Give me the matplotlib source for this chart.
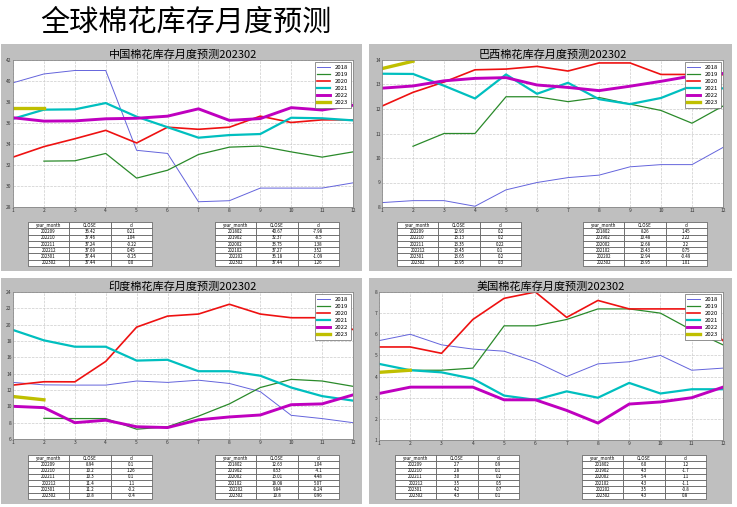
import numpy as np
import matplotlib
matplotlib.use("Agg")
import matplotlib.pyplot as plt
from matplotlib.patches import Rectangle

plt.rcParams['font.family'] = ['Noto Sans CJK SC', 'DejaVu Sans']

months = list(range(1, 13))
years = ['2018', '2019', '2020', '2021', '2022', '2023']
nan = np.nan

# China
cn_2018 = [39.83, 40.67, 41.0, 41.0, 33.4, 33.1, 28.5, 28.6, 29.8, 29.8, 29.8, 30.3]
cn_2019 = [nan, 32.37, 32.4, 33.1, 30.75, 31.5, 33.0, 33.7, 33.8, 33.25, 32.75, 33.25]
cn_2020 = [32.75, 33.75, 34.5, 35.3, 34.1, 35.6, 35.4, 35.6, 36.65, 36.05, 36.3, 36.3]
cn_2021 = [36.4, 37.27, 37.3, 37.9, 36.6, 35.6, 34.6, 34.85, 34.95, 36.5, 36.45, 36.25]
cn_2022 = [36.5, 36.18, 36.2, 36.4, 36.45, 36.65, 37.35, 36.25, 36.42, 37.46, 37.24, 37.69]
cn_2023 = [37.44, 37.44]

# Brazil
br_2018 = [8.18, 8.26, 8.26, 8.03, 8.7, 9.0, 9.2, 9.3, 9.64, 9.73, 9.73, 10.43]
br_2019 = [nan, 10.48, 11.0, 11.0, 12.5, 12.5, 12.3, 12.47, 12.2, 11.94, 11.42, 12.12]
br_2020 = [12.12, 12.68, 13.1, 13.6, 13.63, 13.74, 13.55, 13.88, 13.88, 13.41, 13.41, 13.4]
br_2021 = [13.44, 13.43, 12.95, 12.43, 13.41, 12.62, 13.07, 12.4, 12.2, 12.45, 12.95, 12.84]
br_2022 = [12.85, 12.94, 13.15, 13.25, 13.28, 12.98, 12.88, 12.75, 12.93, 13.13, 13.35, 13.45]
br_2023 = [13.65, 13.95]

# India
in_2018 = [12.93, 12.63, 12.6, 12.6, 13.1, 12.93, 13.2, 12.8, 11.8, 8.9, 8.5, 8.0]
in_2019 = [nan, 8.53, 8.5, 8.5, 7.2, 7.5, 8.8, 10.3, 12.3, 13.3, 13.1, 12.45]
in_2020 = [12.6, 13.01, 13.0, 15.5, 19.7, 21.05, 21.3, 22.5, 21.3, 20.85, 20.85, 19.4]
in_2021 = [19.35, 18.08, 17.3, 17.3, 15.6, 15.7, 14.3, 14.3, 13.75, 12.3, 11.25, 10.7]
in_2022 = [10.0, 9.84, 8.0, 8.3, 7.5, 7.4, 8.35, 8.7, 8.94, 10.2, 10.3, 11.4]
in_2023 = [11.2, 10.8]

# USA
us_2018 = [5.7, 6.0, 5.5, 5.3, 5.2, 4.7, 4.0, 4.6, 4.7, 5.0, 4.3, 4.4]
us_2019 = [nan, 4.3, 4.3, 4.4, 6.4, 6.4, 6.7, 7.2, 7.2, 7.0, 6.2, 5.5]
us_2020 = [5.4, 5.4, 5.1, 6.7, 7.7, 8.0, 6.8, 7.6, 7.2, 7.2, 7.2, 5.7]
us_2021 = [4.6, 4.3, 4.2, 3.9, 3.1, 2.9, 3.3, 3.0, 3.7, 3.2, 3.4, 3.4]
us_2022 = [3.2, 3.5, 3.5, 3.5, 2.9, 2.9, 2.4, 1.8, 2.7, 2.8, 3.0, 3.5]
us_2023 = [4.2, 4.3]

# tables
recent_months = ['202209', '202210', '202211', '202212', '202301', '202302']
feb_months = ['201802', '201902', '202002', '202102', '202202', '202302']

cn_recent_close = ['36.42', '37.46', '37.24', '37.69', '37.44', '37.44']
cn_recent_d = ['0.21', '1.04', '-0.22', '0.45', '-0.25', '0.0']
cn_feb_close = ['40.67', '32.37', '33.75', '37.27', '36.18', '37.44']
cn_feb_d = ['-7.98', '-8.5', '1.38', '3.52', '-1.09', '1.26']

br_recent_close = ['12.93', '13.13', '13.35', '13.45', '13.65', '13.95']
br_recent_d = ['0.2', '0.2', '0.22', '0.1', '0.2', '0.3']
br_feb_close = ['8.26', '10.48', '12.68', '13.43', '12.94', '13.95']
br_feb_d = ['1.45', '2.22', '2.2', '0.75', '-0.49', '1.01']

in_recent_close = ['8.94', '10.2', '10.3', '11.4', '11.2', '10.8']
in_recent_d = ['0.1', '1.26', '0.1', '1.1', '-0.2', '-0.4']
in_feb_close = ['12.63', '8.53', '13.01', '18.08', '9.84', '10.8']
in_feb_d = ['1.04', '-4.1', '4.48', '5.07', '-8.24', '0.96']

us_recent_close = ['2.7', '2.8', '3.0', '3.5', '4.2', '4.3']
us_recent_d = ['0.9', '0.1', '0.2', '0.5', '0.7', '0.1']
us_feb_close = ['6.0', '4.3', '5.4', '4.3', '3.5', '4.3']
us_feb_d = ['1.2', '-1.7', '1.1', '-1.1', '-0.8', '0.8']

colors = ['#6464dc', '#2a8a2a', '#ee1111', '#00bfbf', '#bf00bf', '#bfbf00']
widths = [0.7, 0.9, 1.2, 1.6, 2.1, 2.4]

W, H = 737, 507
fig = plt.figure(figsize=(W / 100, H / 100), dpi=100)
fig.patch.set_facecolor('white')


def box(l, t, w, h):
    return [l / W, 1 - (t + h) / H, w / W, h / H]


fig.text(40 / W, 1 - 23 / H, '全球棉花库存月度预测', fontsize=21, va='center', ha='left')

panels = [
    dict(title='中国棉花库存月度预测202302', series=[cn_2018, cn_2019, cn_2020, cn_2021, cn_2022, cn_2023],
         ylim=(28, 42), ystep=2, rc=cn_recent_close, rd=cn_recent_d, fc=cn_feb_close, fd=cn_feb_d,
         gray=(1, 44, 361, 227), ax=(13, 60, 340, 147), tab1=(28, 222), tab2=(215, 222)),
    dict(title='巴西棉花库存月度预测202302', series=[br_2018, br_2019, br_2020, br_2021, br_2022, br_2023],
         ylim=(8, 14), ystep=1, rc=br_recent_close, rd=br_recent_d, fc=br_feb_close, fd=br_feb_d,
         gray=(369, 44, 363, 227), ax=(382, 60, 341, 147), tab1=(397, 222), tab2=(583, 222)),
    dict(title='印度棉花库存月度预测202302', series=[in_2018, in_2019, in_2020, in_2021, in_2022, in_2023],
         ylim=(6, 24), ystep=2, rc=in_recent_close, rd=in_recent_d, fc=in_feb_close, fd=in_feb_d,
         gray=(1, 278, 361, 226), ax=(13, 292, 340, 147), tab1=(28, 455), tab2=(215, 455)),
    dict(title='美国棉花库存月度预测202302', series=[us_2018, us_2019, us_2020, us_2021, us_2022, us_2023],
         ylim=(1, 8), ystep=1, rc=us_recent_close, rd=us_recent_d, fc=us_feb_close, fd=us_feb_d,
         gray=(369, 278, 363, 226), ax=(379, 292, 344, 148), tab1=(395, 455), tab2=(582, 455)),
]

for p in panels:
    gl, gt, gw, gh = p['gray']
    fig.patches.append(Rectangle((gl / W, 1 - (gt + gh) / H), gw / W, gh / H,
                                 transform=fig.transFigure, facecolor='#bfbfbf',
                                 edgecolor='none', zorder=-5))
    ax = fig.add_axes(box(*p['ax']))
    ax.set_facecolor('white')
    for i, s in enumerate(p['series']):
        ax.plot(months[:len(s)], s, color=colors[i], lw=widths[i], label=years[i])
    ax.set_xlim(1, 12)
    ax.set_ylim(*p['ylim'])
    ax.set_xticks(months)
    ax.set_yticks(np.arange(p['ylim'][0], p['ylim'][1] + 0.1, p['ystep']))
    ax.tick_params(labelsize=3.5, length=0, pad=1, colors='#333333')
    ax.grid(True, ls='--', color='#cccccc', lw=0.5)
    for sp in ax.spines.values():
        sp.set_color('#888888')
        sp.set_linewidth(0.6)
    leg = ax.legend(loc='upper right', fontsize=4.3, handlelength=2.2, labelspacing=0.32,
                    borderpad=0.45, borderaxespad=0.3, fancybox=False, framealpha=1,
                    edgecolor='#666666')
    leg.get_frame().set_linewidth(0.5)
    l, t, w, h = p['ax']
    fig.text((l + w / 2) / W, 1 - (t - 5) / H, p['title'], fontsize=8, ha='center', va='center')

    for (tx, ty), mcol, close, d in [(p['tab1'], recent_months, p['rc'], p['rd']),
                                     (p['tab2'], feb_months, p['fc'], p['fd'])]:
        tax = fig.add_axes(box(tx, ty, 124, 44))
        tax.axis('off')
        cells = [[mcol[k], close[k], d[k]] for k in range(6)]
        tb = tax.table(cellText=cells, colLabels=['year_month', 'CLOSE', 'd'],
                       cellLoc='center', bbox=[0, 0, 1, 1])
        tb.auto_set_font_size(False)
        tb.set_fontsize(3.2)
        for c in tb.get_celld().values():
            c.set_linewidth(0.5)
            c.set_edgecolor('#555555')
            c.set_facecolor('white')

fig.savefig('out.png', dpi=100)
